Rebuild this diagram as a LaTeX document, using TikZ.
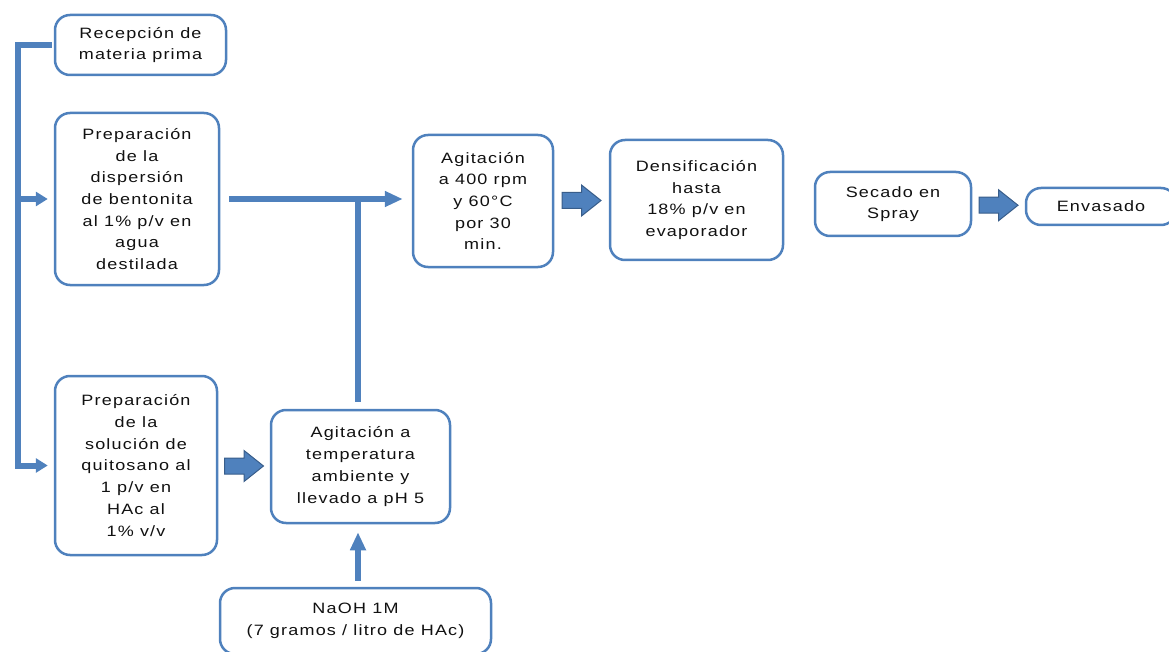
\documentclass[tikz,border=0pt]{standalone}
\usepackage{fontspec}
\setmainfont{Liberation Sans}[FakeStretch=1.2,LetterSpace=8]
\usetikzlibrary{arrows.meta,calc}
\definecolor{bl}{HTML}{4F81BD}
\definecolor{bld}{HTML}{385D8A}
\definecolor{txt}{HTML}{111111}
\begin{document}
\begin{tikzpicture}[x=1pt,y=-1pt,
  box/.style={draw=bl,line width=2.5pt,rounded corners=15pt,fill=white,align=center,inner sep=0pt,text=txt,font=\fontsize{15}{21.7}\selectfont},
  conn/.style={draw=bl,line width=6pt,line join=miter},
  arr/.style={conn,-{Triangle[length=18pt,width=15pt]}},
  sarr/.style={conn,-{Triangle[length=12pt,width=14pt]}},
  barrow/.pic={\draw[fill=bl,draw=bld,line width=1pt] (-19.5,-8) -- (0,-8) -- (0,-15.5) -- (19.5,0) -- (0,15.5) -- (0,8) -- (-19.5,8) -- cycle;}]
\useasboundingbox (0,0) rectangle (1169,652);

\node[box,minimum width=171pt,minimum height=60pt] (rec) at (140.5,45) {Recepción de\\materia prima};
\node[box,minimum width=164pt,minimum height=172pt] (disp) at (137,199) {Preparación\\de la\\dispersión\\de bentonita\\al 1\% p/v en\\agua\\destilada};
\node[box,minimum width=162pt,minimum height=179pt] (sol) at (136,465.5) {Preparación\\de la\\solución de\\quitosano al\\1 p/v en\\HAc al\\1\% v/v};
\node[box,minimum width=179pt,minimum height=113pt] (agt) at (360.5,466.5) {Agitación a\\temperatura\\ambiente y\\llevado a pH 5};
\node[box,minimum width=271pt,minimum height=66pt] (naoh) at (355.5,621) {NaOH 1M\\(7 gramos / litro de HAc)};
\node[box,minimum width=140pt,minimum height=132pt] (a400) at (483,201) {Agitación\\a 400 rpm\\y 60°C\\por 30\\min.};
\node[box,minimum width=173pt,minimum height=120pt] (dens) at (696.5,200) {Densificación\\hasta\\18\% p/v en\\evaporador};
\node[box,minimum width=156pt,minimum height=64pt] (sec) at (893,204) {Secado en\\Spray};
\node[box,minimum width=150pt,minimum height=37pt] (env) at (1101,206.5) {Envasado};

% left bracket
\coordinate (L) at (18,45);
\draw[sarr] ([xshift=-2pt]rec.west) -- (L) -- (L |- sol.west) -- ([xshift=-6pt]sol.west);
\draw[sarr] (L |- disp.west) -- ([xshift=-6pt]disp.west);

% to agitation 400 rpm
\coordinate (J) at ($(agt.north)+(-2.5,0)$);
\draw[arr] ([xshift=9pt]disp.east) -- ([xshift=-9pt]disp.east -| a400.west);
\draw[conn] ([yshift=7pt]J) -- (J |- disp.east);

% NaOH up
\draw[arr] ([yshift=6pt]naoh.north -| J) -- ([yshift=-8pt]agt.south -| J);

% block arrows
\pic at ($(sol.east)!0.5!(agt.west)$) {barrow};
\pic at ($(a400.east)!0.5!(dens.west)$) {barrow};
\pic at ($(sec.east)!0.5!(env.west)$) {barrow};
\end{tikzpicture}
\end{document}
